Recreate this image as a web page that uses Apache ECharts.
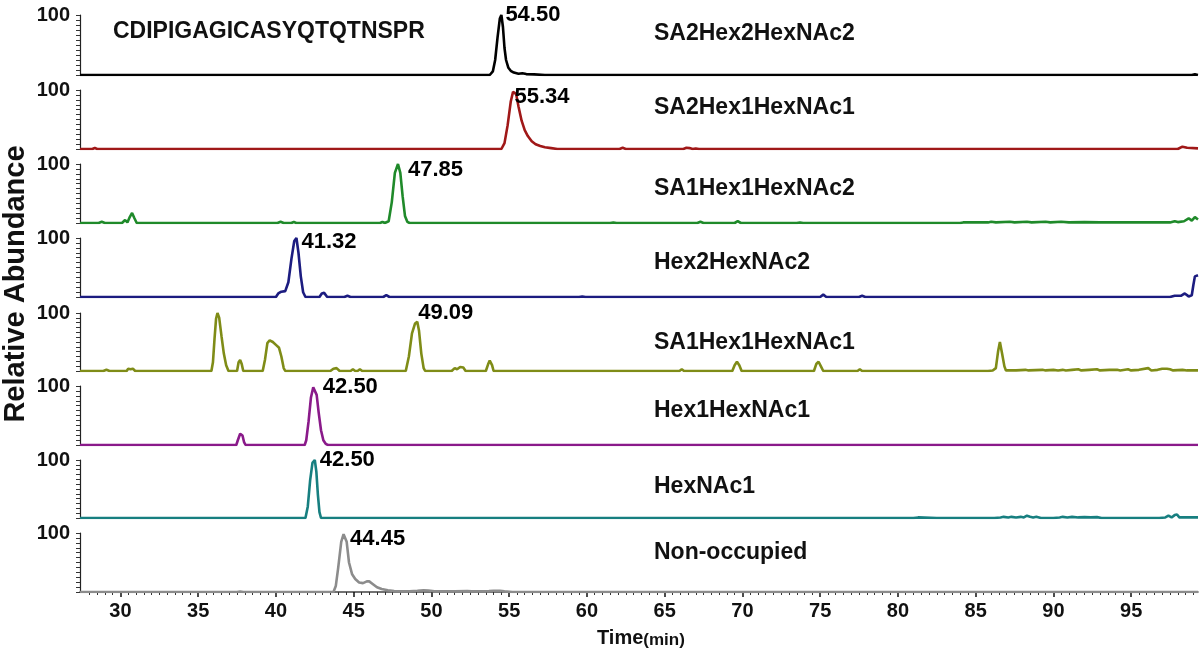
<!DOCTYPE html>
<html>
<head>
<meta charset="utf-8">
<script src="https://cdn.jsdelivr.net/npm/echarts@6/dist/echarts.min.js"></script>
<style>
html,body{margin:0;padding:0;background:#fff;}
#chart{width:1200px;height:658px;}
</style>
</head>
<body>
<div id="chart"></div>
<script>
// ---------------- DATA ----------------
const panelNames = ['SA2Hex2HexNAc2','SA2Hex1HexNAc1','SA1Hex1HexNAc2','Hex2HexNAc2','SA1Hex1HexNAc1','Hex1HexNAc1','HexNAc1','Non-occupied'];
const peptide = 'CDIPIGAGICASYQTQTNSPR';
const peakTimes = [54.50, 55.34, 47.85, 41.32, 49.09, 42.50, 42.50, 44.45];
const peakHeights = [100, 100, 100, 100, 85, 100, 100, 100];
const peakLabels = ['54.50','55.34','47.85','41.32','49.09','42.50','42.50','44.45'];
const xTickLabels = [30,35,40,45,50,55,60,65,70,75,80,85,90,95];
const yLabelValue = 100;

const trace1 = [[27.4,0],[53.75,0],[53.95,6],[54.1,25],[54.25,62],[54.4,94],[54.5,100],[54.6,80],[54.7,45],[54.8,25],[54.95,12],[55.1,7],[55.3,4],[55.6,2],[55.85,3],[56.1,1.5],[56.6,1],[57.3,0],[98.9,0],[99.1,1],[99.3,0]];
const trace2 = [[27.4,0],[28.2,0],[28.35,2],[28.5,0],[34.3,0],[34.4,1],[34.5,0],[54.5,0],[54.7,10],[54.9,40],[55.1,80],[55.25,97],[55.34,100],[55.45,93],[55.6,72],[55.8,48],[56.0,32],[56.2,22],[56.45,13],[56.7,8],[57.0,5],[57.3,3],[57.7,1.5],[58.1,0],[62.1,0],[62.3,2],[62.5,0],[66.2,0],[66.4,2],[66.6,1.5],[66.8,0],[67.0,1],[67.2,0],[98.0,0],[98.3,4],[98.6,2],[99.3,1]];
const trace3 = [[27.4,0],[28.6,0],[28.8,2],[29.0,0],[30.1,0],[30.3,5],[30.45,1],[30.6,10],[30.75,17],[30.9,8],[31.05,0],[40.1,0],[40.3,2],[40.5,0],[41.0,0],[41.15,2],[41.3,0],[46.7,0],[46.85,2],[47.0,0],[47.25,3],[47.45,35],[47.65,85],[47.85,100],[48.0,85],[48.15,45],[48.3,12],[48.45,2],[48.6,0],[61.5,0],[61.7,1],[61.9,0],[67.1,0],[67.3,2],[67.5,0],[69.5,0],[69.7,3],[69.9,0],[73.5,0],[73.7,1],[73.9,0],[84.0,0],[84.2,1],[85.8,1],[86.0,2],[86.3,1],[87.2,2],[87.5,1],[88.3,2],[88.6,1],[89.5,2],[89.8,1],[90.5,2],[91.0,1],[92.0,1.5],[93.0,1],[94.5,1],[97.5,1],[97.8,3],[98.0,1.5],[98.4,3],[98.7,8],[98.9,4],[99.1,10],[99.3,6]];
const trace4 = [[27.4,0],[40.0,0],[40.15,6],[40.35,9],[40.6,10],[40.8,25],[41.0,65],[41.18,95],[41.32,100],[41.45,75],[41.6,35],[41.75,8],[41.9,0],[42.8,0],[42.95,6],[43.1,7],[43.3,0],[44.4,0],[44.6,2],[44.8,0],[46.9,0],[47.1,3],[47.3,0],[59.5,0],[59.7,1],[59.9,0],[75.0,0],[75.2,4],[75.4,0],[77.5,0],[77.7,2],[77.9,0],[80.4,0],[80.5,1],[80.7,0],[97.5,0],[97.8,2],[98.2,2],[98.45,6],[98.7,1],[98.9,3],[99.0,20],[99.1,35],[99.3,37]];
const trace5 = [[27.4,0],[28.9,0],[29.1,2],[29.3,0],[30.4,0],[30.5,4],[30.65,3],[30.8,4],[30.95,0],[35.85,0],[35.95,15],[36.05,55],[36.15,90],[36.24,100],[36.35,92],[36.5,60],[36.65,30],[36.8,10],[36.95,0],[37.5,0],[37.6,15],[37.7,19],[37.8,12],[37.9,0],[39.15,0],[39.3,20],[39.45,48],[39.6,53],[39.8,50],[40.0,45],[40.2,40],[40.35,25],[40.5,5],[40.6,0],[43.5,0],[43.7,4],[43.9,5],[44.1,0],[44.8,0],[44.95,3],[45.1,0],[45.25,0],[45.4,3],[45.55,0],[48.35,0],[48.55,25],[48.75,65],[48.95,82],[49.09,85],[49.2,70],[49.35,30],[49.5,5],[49.6,0],[51.3,0],[51.5,5],[51.65,3],[51.85,7],[52.05,6],[52.2,0],[53.5,0],[53.65,12],[53.75,18],[53.9,10],[54.0,0],[55.1,0],[55.2,2],[55.3,0],[55.8,0],[55.9,2],[56.0,0],[57.3,0],[57.4,2],[57.5,0],[58.3,0],[58.4,2],[58.5,0],[59.6,0],[59.7,2],[59.8,0],[65.95,0],[66.1,3],[66.25,0],[69.35,0],[69.5,10],[69.65,16],[69.8,10],[69.95,0],[74.6,0],[74.75,12],[74.9,16],[75.05,8],[75.2,0],[77.4,0],[77.55,3],[77.7,0],[78.9,0],[79.0,2],[79.1,0],[80.2,0],[80.3,2],[80.4,0],[81.8,0],[81.9,2],[82.0,0],[85.0,0],[85.1,3],[85.2,0],[85.8,0],[85.9,3],[86.1,1],[86.3,5],[86.45,35],[86.56,50],[86.7,30],[86.85,8],[86.95,1],[87.4,1],[87.5,3],[87.6,1],[88.2,2],[88.4,1],[89.3,2],[89.4,4],[89.5,1],[90.0,2],[90.3,1],[90.6,2],[90.7,5],[90.8,1],[91.2,2],[91.6,3],[91.8,1],[92.3,2],[92.8,3],[93.0,1],[93.6,2],[94.1,2],[94.3,1],[94.8,3],[95.0,1],[95.5,2],[96.1,5],[96.3,1],[96.7,2],[97.0,4],[97.3,4],[97.5,3],[97.7,1],[98.3,2],[98.6,1],[99.3,1]];
const trace6 = [[27.4,0],[37.45,0],[37.55,8],[37.7,19],[37.85,16],[37.95,5],[38.05,0],[41.85,0],[41.95,8],[42.1,40],[42.25,80],[42.4,98],[42.5,100],[42.62,85],[42.75,55],[42.9,25],[43.05,8],[43.2,2],[43.35,0],[99.3,0]];
const trace7 = [[27.4,0],[41.9,0],[42.05,20],[42.2,65],[42.35,95],[42.5,100],[42.6,80],[42.7,40],[42.8,10],[42.9,0],[68.8,0],[68.9,3],[69.0,0],[75.0,0],[75.1,2],[75.2,0],[75.75,0],[75.85,2],[75.95,0],[78.0,0],[78.1,1.5],[78.2,0],[78.8,0],[78.9,1.5],[79.0,0],[79.7,0],[79.8,2],[79.9,0],[81.0,0],[81.1,2],[81.3,1],[81.4,0],[82.5,0],[82.6,2],[82.7,0],[83.2,0],[83.3,1.5],[83.4,0],[84.3,0],[84.4,1.5],[84.5,0],[86.2,0],[86.3,2],[86.6,1],[86.8,2],[87.1,1],[87.3,2],[87.6,1],[87.9,2],[88.1,1],[88.3,4],[88.5,2],[88.7,1],[88.9,2],[89.2,0],[90.0,0],[90.1,2],[90.4,1],[90.6,2],[90.9,1],[91.2,2],[91.6,1],[92.0,1.5],[92.4,1],[92.8,1.5],[93.1,0],[94.3,0],[94.4,2],[94.5,0],[96.8,0],[96.9,2],[97.2,1],[97.4,4],[97.6,1],[97.8,5],[97.95,6],[98.1,1],[98.4,1],[99.3,1]];
const trace8 = [[27.4,0],[37.5,0],[37.7,1],[37.9,0],[43.7,0],[43.85,10],[44.0,40],[44.2,85],[44.35,98],[44.45,100],[44.55,85],[44.7,50],[44.9,30],[45.1,22],[45.35,16],[45.6,15],[45.85,18],[46.0,18],[46.2,14],[46.5,8],[46.8,5],[47.2,3],[47.6,1.5],[48.0,1],[48.6,1],[49.1,2],[49.5,3],[49.8,2.5],[50.2,1],[50.8,1],[51.5,1],[52.3,1.5],[52.6,1],[53.3,1],[53.7,1.5],[54.0,2],[54.4,2],[54.7,1],[55.2,0],[99.3,0]];

const traces = [trace1, trace2, trace3, trace4, trace5, trace6, trace7, trace8];

// ---------------- STYLE / LAYOUT ----------------
const colors = ['#000000','#a01818','#1f8a2a','#1c1c80','#7f8c17','#8a1a8a','#177f80','#8c8c8c'];
const tops = [15, 90, 164, 238, 313, 386, 460, 533];
const bottoms = [75, 149, 223, 297, 371, 445, 518, 592];
const nameY = [34, 108, 189, 263, 343, 411, 487, 553];
const labelOffsets = [[4,0],[0,7],[10,6],[5,4],[1,-9],[8,1],[5,0],[5,6]];
const X_MIN = 27.4, X_MAX = 99.3;

const yTicks = [];
for (let k = 0; k <= 12; k++) yTicks.push(k * 100 / 12);
const minorX = [];
for (let v = 28; v <= 99; v += 0.5) if (v % 5 !== 0) minorX.push(v);

const grid = [], xAxis = [], yAxis = [], series = [], graphic = [];
const FONT = 'Liberation Sans, Arial, Helvetica, sans-serif';

for (let i = 0; i < 8; i++) {
  grid.push({left: 80, right: 2, top: tops[i], height: bottoms[i] - tops[i], containLabel: false});
  const last = i === 7;
  xAxis.push({
    type: 'value', gridIndex: i, min: X_MIN, max: X_MAX,
    show: last,
    axisLine: {show: last, lineStyle: {color: '#444', width: 1.5}},
    axisTick: {show: last, customValues: xTickLabels, length: 5, lineStyle: {color: '#111', width: 1.5}},
    axisLabel: {show: last, customValues: xTickLabels, margin: 9, color: '#111', fontSize: 20, fontWeight: 'bold', fontFamily: FONT},
    splitLine: {show: false}
  });
  yAxis.push({
    type: 'value', gridIndex: i, min: 0, max: 100,
    axisLine: {show: true, lineStyle: {color: '#222', width: 1.2}},
    axisTick: {show: true, customValues: yTicks, length: 4, lineStyle: {color: '#333', width: 1}},
    axisLabel: {show: true, customValues: [yLabelValue], margin: 10, color: '#111', fontSize: 20, fontWeight: 'bold', fontFamily: FONT},
    splitLine: {show: false}
  });
  series.push({
    type: 'line', xAxisIndex: i, yAxisIndex: i, data: traces[i],
    showSymbol: false, symbol: 'none', smooth: false,
    lineStyle: {color: colors[i], width: 2.6},
    silent: true, z: 3
  });
  series.push({
    type: 'scatter', xAxisIndex: i, yAxisIndex: i,
    data: [[peakTimes[i], peakHeights[i]]],
    symbolSize: 0, silent: true, z: 4,
    itemStyle: {opacity: 1, color: '#000'},
    label: {show: true, position: 'right', distance: 0, offset: labelOffsets[i], opacity: 1,
      formatter: peakLabels[i], color: '#000', fontSize: 22, fontWeight: 'bold', fontFamily: FONT}
  });
  graphic.push({type: 'text', x: 654, y: nameY[i], silent: true,
    style: {text: panelNames[i], fill: '#111', font: 'bold 23px ' + FONT, textVerticalAlign: 'middle', textAlign: 'left'}});
}
// minor x ticks on bottom panel
xAxis.push({
  type: 'value', gridIndex: 7, min: X_MIN, max: X_MAX, position: 'bottom',
  axisLine: {show: false},
  axisTick: {show: true, customValues: minorX, length: 3, lineStyle: {color: '#333', width: 1}},
  axisLabel: {show: false}, splitLine: {show: false}
});

graphic.push({type: 'text', x: 113, y: 32, silent: true,
  style: {text: peptide, fill: '#111', font: 'bold 23px ' + FONT, textVerticalAlign: 'middle', textAlign: 'left'}});
graphic.push({type: 'text', x: 16, y: 284, rotation: Math.PI / 2, silent: true,
  style: {text: 'Relative Abundance', fill: '#111', font: 'bold 29px ' + FONT, textVerticalAlign: 'middle', textAlign: 'center'}});
graphic.push({type: 'text', x: 597, y: 638, silent: true,
  style: {text: '{a|Time}{b|(min)}', textVerticalAlign: 'middle', textAlign: 'left',
    rich: {a: {fontSize: 20, fontWeight: 'bold', fontFamily: FONT, fill: '#111', color: '#111'},
           b: {fontSize: 17, fontWeight: 'bold', fontFamily: FONT, fill: '#111', color: '#111', padding: [4,0,0,0]}}}});

const chart = echarts.init(document.getElementById('chart'), null, {renderer: 'canvas'});
chart.setOption({
  animation: false,
  backgroundColor: '#ffffff',
  grid, xAxis, yAxis, series, graphic
});
</script>
</body>
</html>
